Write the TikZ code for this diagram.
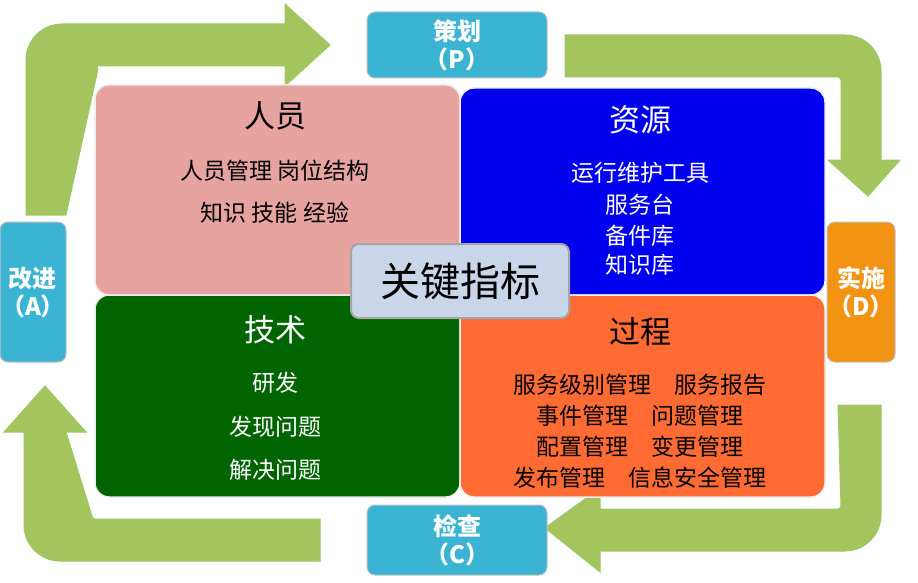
\documentclass[tikz,border=0pt]{standalone}
\usepackage{fontspec}
\setmainfont{Noto Sans CJK SC}
\begin{document}
\begin{tikzpicture}[x=1pt,y=-1pt,
 band/.style={draw=green!30!olive!60,line width=1pt,fill=arrowg},
 quad/.style={draw=white!85!gray,line width=1.5pt,rounded corners=14pt},
 side/.style={draw=gray!50,line width=1pt,rounded corners=8pt,text=white,font=\bfseries\fontsize{24}{28}\selectfont,align=center,inner sep=0pt},
 ttl/.style={font=\fontsize{31}{34}\selectfont},
 txt/.style={font=\fontsize{23}{26}\selectfont}]
\definecolor{arrowg}{HTML}{A4C45E}
\definecolor{pinkq}{HTML}{E6A3A0}
\definecolor{blueq}{HTML}{0000EE}
\definecolor{greenq}{HTML}{006400}
\definecolor{orangeq}{HTML}{FF6B33}
\definecolor{cyanb}{HTML}{3BB3D3}
\definecolor{orb}{HTML}{F39314}
\definecolor{centerb}{HTML}{C9D5E8}
\useasboundingbox (0,0) rectangle (918,583);
% arrows
\draw[band] (26,215) -- (26,60) arc(180:270:36) -- (285,24) -- (285,4) -- (330,45) -- (285,86) -- (285,66) -- (95,66) arc(270:360:3) -- (66,215) -- cycle;
\draw[band] (565,35) -- (845,35) arc(-90:0:36) -- (881,160) -- (900,160) -- (868,196) -- (828,160) -- (841,160) -- (841,80) arc(0:-90:3) -- (565,77) -- cycle;
\draw[band] (881,405) -- (881,515) arc(0:90:36) -- (600,551) -- (600,572) -- (545,528) -- (600,488) -- (600,509) -- (838,509) arc(90:0:3) -- (838,405) -- cycle;
\draw[band] (320,519) -- (95,519) arc(90:180:3) -- (66,432) -- (86,432) -- (45,386) -- (4,432) -- (24,432) -- (24,525) arc(180:90:36) -- (320,561) -- cycle;
% quadrants
\draw[quad,fill=pinkq] (460,295) -- (95,295) -- (95,85) -- (460,85) -- cycle;
\draw[quad,fill=blueq] (460,295) -- (460,88) -- (825,88) -- (825,295) -- cycle;
\draw[quad,fill=greenq] (460,295) -- (95,295) -- (95,497) -- (460,497) -- cycle;
\draw[quad,fill=orangeq] (460,295) -- (825,295) -- (825,497) -- (460,497) -- cycle;
\node[ttl] (t1) at (275,116) {人员};
\node[txt] (a1) at (275,171) {人员管理\ 岗位结构};
\node[txt] (a2) at (275,213) {知识\ 技能\ 经验};
\node[ttl,text=white] (t2) at (640,120) {资源};
\node[txt,text=white] (b1) at (640,173) {运行维护工具};
\node[txt,text=white] (b2) at (640,205) {服务台};
\node[txt,text=white] (b3) at (640,236) {备件库};
\node[txt,text=white] (b4) at (640,265) {知识库};
\node[ttl,text=white] (t3) at (275,330) {技术};
\node[txt,text=white] (c1) at (275,383) {研发};
\node[txt,text=white] (c2) at (275,427) {发现问题};
\node[txt,text=white] (c3) at (275,470) {解决问题};
\node[ttl] (t4) at (640,332) {过程};
\node[txt] (d1) at (640,385) {服务级别管理\quad 服务报告};
\node[txt] (d2) at (640,416) {事件管理\quad 问题管理};
\node[txt] (d3) at (640,447) {配置管理\quad 变更管理};
\node[txt] (d4) at (640,478) {发布管理\quad 信息安全管理};
% center
\node[draw=gray!70,line width=2pt,fill=centerb,rounded corners=8pt,minimum width=218pt,minimum height=74pt,font=\fontsize{40}{44}\selectfont] (k) at (460,281) {关键指标};
% side boxes
\node[side,fill=cyanb,minimum width=180pt,minimum height=66pt] (p) at (457,45) {策划\\（P）};
\node[side,fill=cyanb,minimum width=180pt,minimum height=70pt] (c) at (457,540) {检查\\（C）};
\node[side,fill=cyanb,minimum width=66pt,minimum height=140pt] (a) at (33,292) {改进\\（A）};
\node[side,fill=orb,minimum width=68pt,minimum height=140pt] (d) at (861,292) {实施\\（D）};
\end{tikzpicture}
\end{document}
